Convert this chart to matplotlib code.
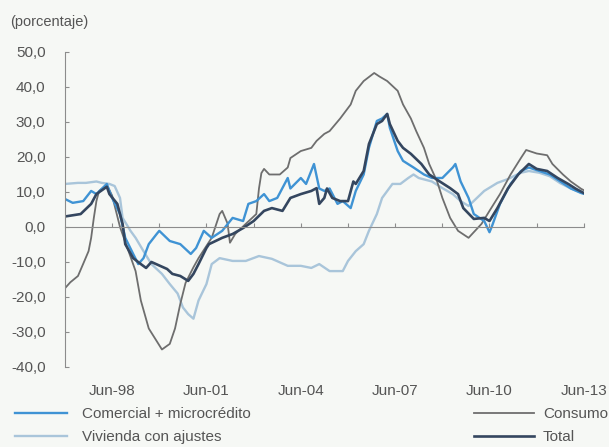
import matplotlib
matplotlib.use("Agg")
import matplotlib.pyplot as plt
import matplotlib.dates as mdates
import pandas as pd

plt.rcParams['font.family'] = ['Liberation Sans', 'DejaVu Sans']

# Comercial + microcredito
com_dates = ['1996-12', '1997-03', '1997-07', '1997-10', '1997-12', '1998-02', '1998-04',
             '1998-06', '1998-09', '1998-11', '1999-02', '1999-04', '1999-06', '1999-08',
             '1999-11', '1999-12', '2000-04', '2000-08', '2000-12', '2001-02', '2001-05',
             '2001-08', '2001-12', '2002-04', '2002-08', '2002-10', '2003-01', '2003-04',
             '2003-06', '2003-09', '2004-01', '2004-02', '2004-06', '2004-08', '2004-11',
             '2005-01', '2005-03', '2005-05', '2005-08', '2005-10', '2006-01', '2006-03',
             '2006-06', '2006-08', '2006-11', '2007-01', '2007-03', '2007-04', '2007-07',
             '2007-09', '2008-01', '2008-05', '2008-08', '2008-12', '2009-04', '2009-05',
             '2009-07', '2009-10', '2009-12', '2010-04', '2010-06', '2010-07', '2010-10',
             '2011-02', '2011-06', '2011-09', '2012-01', '2012-05', '2012-09', '2013-01',
             '2013-05', '2013-06']
com_vals = [8.0, 6.9, 7.4, 10.3, 9.4, 10.9, 12.3,
            8.3, 3.7, -3.1, -7.7, -10.6, -8.9, -4.9,
            -2.0, -1.1, -4.0, -4.9, -7.7, -6.0, -1.1,
            -3.1, -1.1, 2.6, 1.7, 6.6, 7.4, 9.4,
            7.4, 8.3, 14.0, 11.0, 14.0, 12.3, 18.0,
            11.0, 10.3, 11.0, 6.6, 7.4, 5.4, 10.3,
            15.0, 22.6, 30.3, 31.0, 32.3, 28.3, 21.7,
            18.9, 17.0, 15.0, 14.0, 14.0, 17.0, 18.0,
            13.0, 8.3, 3.7, 1.7, -1.5, 0.3, 6.6,
            12.3, 16.0, 17.0, 16.0, 15.0, 13.0, 11.0,
            9.7, 9.5]

# Vivienda con ajustes
viv_dates = ['1996-12', '1997-05', '1997-08', '1997-12', '1998-02', '1998-05', '1998-07',
             '1998-09', '1998-10', '1999-01', '1999-03', '1999-06', '1999-09', '2000-01',
             '2000-04', '2000-07', '2000-09', '2000-11', '2001-01', '2001-03', '2001-06',
             '2001-08', '2001-11', '2002-04', '2002-09', '2003-02', '2003-07', '2004-01',
             '2004-06', '2004-10', '2005-01', '2005-05', '2005-10', '2005-12', '2006-03',
             '2006-06', '2006-08', '2006-11', '2007-01', '2007-05', '2007-08', '2007-11',
             '2008-01', '2008-03', '2008-08', '2008-12', '2009-04', '2009-07', '2009-10',
             '2010-04', '2010-09', '2011-01', '2011-06', '2011-09', '2012-01', '2012-05',
             '2012-09', '2013-01', '2013-06']
viv_vals = [12.3, 12.6, 12.6, 13.0, 12.6, 12.3, 11.7,
            8.3, 2.6, -1.1, -3.1, -6.9, -10.6, -13.4,
            -16.3, -19.0, -23.0, -24.9, -26.2, -21.0, -16.3,
            -10.6, -8.9, -9.7, -9.7, -8.3, -9.1, -11.1,
            -11.1, -11.7, -10.6, -12.6, -12.6, -9.7, -6.9,
            -4.9, -1.1, 3.7, 8.3, 12.3, 12.3, 14.0,
            15.0, 14.0, 13.0, 11.1, 9.4, 7.4, 6.0,
            10.3, 12.6, 13.7, 15.5, 16.0, 15.5, 14.5,
            12.5, 11.0, 9.5]

# Consumo
con_dates = ['1996-12', '1997-02', '1997-05', '1997-07', '1997-09', '1997-10', '1997-11',
             '1997-12', '1998-01', '1998-04', '1998-06', '1998-09', '1999-03', '1999-05',
             '1999-08', '1999-11', '2000-01', '2000-04', '2000-06', '2000-08', '2000-10',
             '2001-01', '2001-03', '2001-08', '2001-11', '2001-12', '2002-02', '2002-03',
             '2002-05', '2002-09', '2003-01', '2003-02', '2003-03', '2003-04', '2003-06',
             '2003-10', '2004-01', '2004-02', '2004-06', '2004-10', '2004-12', '2005-03',
             '2005-05', '2005-09', '2006-01', '2006-03', '2006-06', '2006-10', '2006-12',
             '2007-03', '2007-07', '2007-09', '2007-12', '2008-02', '2008-05', '2008-07',
             '2008-10', '2008-12', '2009-03', '2009-06', '2009-10', '2010-03', '2010-06',
             '2010-10', '2011-02', '2011-06', '2011-08', '2011-12', '2012-04', '2012-06',
             '2012-10', '2013-01', '2013-05', '2013-06']
con_vals = [-17.5, -15.8, -14.0, -10.5, -6.9, -3.1, 2.6,
            7.4, 10.3, 12.0, 9.0, 0.0, -12.6, -21.0,
            -29.0, -32.6, -35.0, -33.4, -29.0, -22.0, -16.0,
            -11.5, -8.9, -3.1, 3.7, 4.6, 1.0, -4.5,
            -2.0, 0.9, 3.7, 11.0, 15.4, 16.6, 15.0,
            15.0, 17.0, 19.7, 21.7, 22.6, 24.6, 26.6,
            27.4, 31.0, 35.0, 38.9, 41.7, 44.0, 43.0,
            41.7, 38.9, 35.0, 31.0, 27.4, 22.6, 18.0,
            13.0, 8.3, 2.6, -1.1, -3.1, 0.9, 4.6,
            9.4, 15.0, 19.7, 22.0, 21.0, 20.5, 18.0,
            15.0, 13.0, 10.9, 10.5]

# Total
tot_dates = ['1996-12', '1997-06', '1997-10', '1997-12', '1998-04', '1998-05', '1998-08',
             '1998-10', '1998-11', '1999-02', '1999-05', '1999-07', '1999-09', '1999-12',
             '2000-03', '2000-05', '2000-08', '2000-11', '2001-01', '2001-03', '2001-06',
             '2001-07', '2001-12', '2002-04', '2002-08', '2002-12', '2003-04', '2003-07',
             '2003-11', '2004-02', '2004-06', '2004-10', '2004-12', '2005-01', '2005-03',
             '2005-04', '2005-06', '2005-09', '2005-12', '2006-02', '2006-03', '2006-06',
             '2006-08', '2006-11', '2007-01', '2007-03', '2007-04', '2007-07', '2007-09',
             '2007-12', '2008-04', '2008-07', '2008-11', '2009-03', '2009-06', '2009-08',
             '2009-12', '2010-04', '2010-06', '2010-09', '2011-01', '2011-05', '2011-09',
             '2011-12', '2012-04', '2012-08', '2012-12', '2013-03', '2013-06']
tot_vals = [3.0, 3.7, 6.6, 9.4, 11.5, 9.4, 6.6,
            0.9, -4.9, -8.9, -10.6, -11.7, -10.0, -11.0,
            -12.0, -13.4, -14.0, -15.4, -13.4, -10.6, -6.0,
            -4.9, -3.1, -2.0, -0.3, 1.7, 4.6, 5.4,
            4.6, 8.3, 9.4, 10.3, 11.1, 6.6, 8.3,
            11.0, 8.3, 7.4, 7.4, 13.0, 12.3, 16.0,
            23.7, 29.4, 30.3, 32.3, 29.4, 24.6, 22.6,
            20.9, 18.0, 15.0, 13.0, 11.1, 9.4, 5.4,
            2.3, 2.6, 1.7, 5.4, 11.0, 15.0, 18.0,
            16.6, 16.0, 14.0, 12.3, 10.9, 9.7]

tick_dates = ['1998-06', '1999-12', '2001-06', '2002-12', '2004-06', '2005-12',
              '2007-06', '2008-12', '2010-06', '2011-12', '2013-06']
label_dates = ['1998-06', '2001-06', '2004-06', '2007-06', '2010-06', '2013-06']
label_text = ['Jun-98', 'Jun-01', 'Jun-04', 'Jun-07', 'Jun-10', 'Jun-13']
y_ticks = [-40, -30, -20, -10, 0, 10, 20, 30, 40, 50]


def num(d):
    return mdates.date2num(pd.to_datetime(d))


bg = '#f6f8f5'
txt = '#555555'
axc = '#8c8c8c'

fig = plt.figure(figsize=(6.09, 4.47), dpi=100, facecolor=bg)
ax = fig.add_axes([0.1067, 0.179, 0.852, 0.7047], facecolor=bg)

l_viv, = ax.plot(num(viv_dates), viv_vals, color='#a9c5da', lw=1.7, label='Vivienda con ajustes')
l_con, = ax.plot(num(con_dates), con_vals, color='#6e6e6e', lw=1.3, label='Consumo')
l_com, = ax.plot(num(com_dates), com_vals, color='#3f93d4', lw=1.7, label='Comercial + microcrédito')
l_tot, = ax.plot(num(tot_dates), tot_vals, color='#34465f', lw=1.9, label='Total')

ax.set_xlim(num('1996-12'), num('2013-06'))
ax.set_ylim(-40, 50)

for s in ['top', 'right']:
    ax.spines[s].set_visible(False)
ax.spines['bottom'].set_position(('data', 0))
ax.spines['bottom'].set_color(axc)
ax.spines['left'].set_color(axc)

ax.set_xticks(num(tick_dates))
ax.tick_params(axis='x', direction='in', length=3, color=axc, labelbottom=False)
ax.set_yticks(y_ticks)
ax.set_yticklabels([f"{v:.1f}".replace('.', ',') for v in y_ticks])
ax.tick_params(axis='y', direction='in', length=3, color=axc, pad=14,
               labelsize=11, labelcolor=txt)

sec = ax.secondary_xaxis('bottom')
sec.spines['bottom'].set_visible(False)
sec.set_xticks(num(label_dates), labels=label_text)
sec.tick_params(length=0, pad=12, labelsize=11, labelcolor=txt)

fig.text(0.016, 0.951, '(porcentaje)', fontsize=10.5, color=txt, va='center', ha='left')

leg1 = fig.legend(handles=[l_com, l_viv], loc='upper left',
                  bbox_to_anchor=(15 / 609, 1 - 407 / 447), frameon=False,
                  fontsize=11, handlelength=3.4, handletextpad=1.0,
                  borderpad=0, borderaxespad=0, labelspacing=0.6)
for t in leg1.get_texts():
    t.set_color(txt)
leg2 = fig.legend(handles=[l_con, l_tot], loc='upper right',
                  bbox_to_anchor=(0.998, 1 - 407 / 447), frameon=False,
                  fontsize=11, handlelength=3.9, handletextpad=0.6,
                  borderpad=0, borderaxespad=0, labelspacing=0.6)
for t in leg2.get_texts():
    t.set_color(txt)

fig.savefig('out.png', dpi=100, facecolor=bg)
